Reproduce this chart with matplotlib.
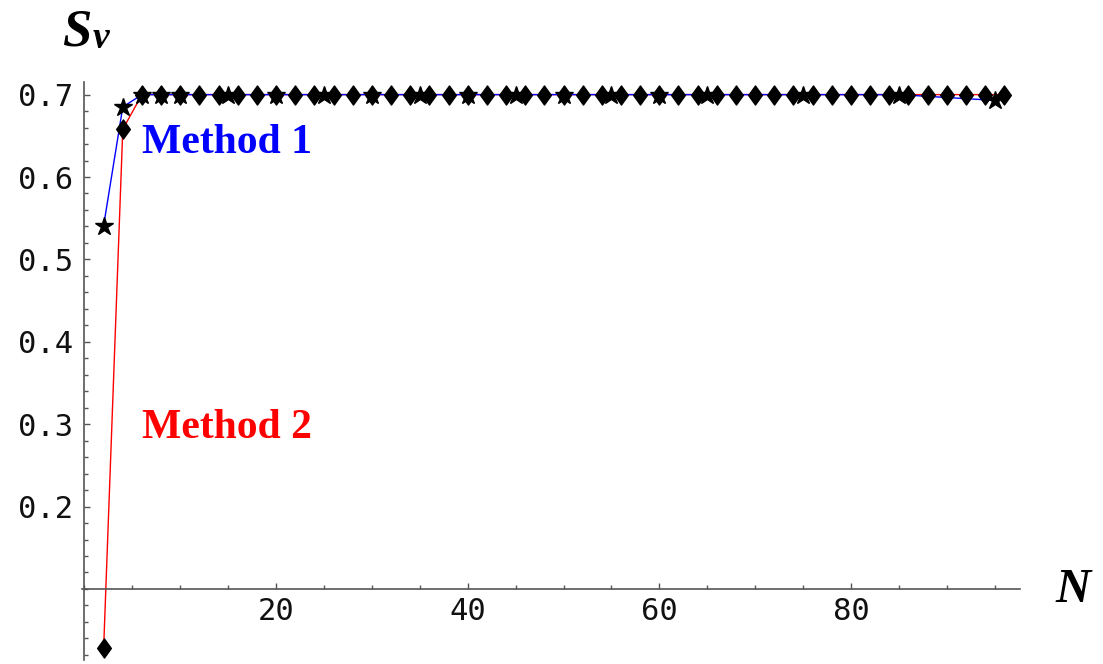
import numpy as np
import matplotlib; matplotlib.use('Agg')
import matplotlib.pyplot as plt
from matplotlib.path import Path
from matplotlib.ticker import FixedLocator, MultipleLocator

# Method 1 (stars, blue line)
n1 = [2, 4, 6, 8, 10, 15, 20, 25, 30, 35, 40, 45, 50, 55, 60, 65, 75, 85, 95]
s1 = [0.541, 0.685, 0.700, 0.700, 0.700, 0.700, 0.700, 0.700, 0.700, 0.700,
      0.700, 0.700, 0.700, 0.700, 0.700, 0.700, 0.700, 0.700, 0.693]
# Method 2 (diamonds, red line)
n2 = [2, 4, 6, 8, 10, 12, 14, 16, 18, 20, 22, 24, 26, 28, 30, 32, 34, 36, 38, 40,
      42, 44, 46, 48, 50, 52, 54, 56, 58, 60, 62, 64, 66, 68, 70, 72, 74, 76, 78, 80,
      82, 84, 86, 88, 90, 92, 94, 96]
s2 = [0.028, 0.658] + [0.700] * 46

yticks = [0.2, 0.3, 0.4, 0.5, 0.6, 0.7]
xticks = [20, 40, 60, 80]

W, H = 1103, 664
fig = plt.figure(figsize=(W/100, H/100), dpi=100, facecolor='white')
# axes box in pixels: left 81.6, right 1020.5, top 82, bottom 660
ax = fig.add_axes([81.6/W, 4/H, (1020.5-81.6)/W, (660-82)/H])
ax.set_xlim(-0.3, 97.7)
ax.set_ylim(0.0138, 0.7153)

diamond = Path([(0, 1), (0.72, 0), (0, -1), (-0.72, 0), (0, 1)],
               [Path.MOVETO, Path.LINETO, Path.LINETO, Path.LINETO, Path.CLOSEPOLY])

ax.plot(n2, s2, color='red', lw=1.0, zorder=2)
ax.plot(n1, s1, color='blue', lw=1.0, zorder=3)
ax.plot(n2, s2, ls='none', marker=diamond, ms=13.7, color='black', zorder=4)
ax.plot(n1, s1, ls='none', marker='*', ms=13.5, color='black', zorder=5)

for s in ['top', 'right']:
    ax.spines[s].set_visible(False)
ax.spines['left'].set_position(('data', 0))
ax.spines['bottom'].set_position(('data', 0.1))
for s in ['left', 'bottom']:
    ax.spines[s].set_color('#555555'); ax.spines[s].set_linewidth(1.2)

ax.xaxis.set_major_locator(FixedLocator(xticks))
ax.xaxis.set_minor_locator(MultipleLocator(5))
ax.yaxis.set_major_locator(FixedLocator(yticks))
ax.yaxis.set_minor_locator(MultipleLocator(0.02))
ax.set_xticklabels([str(v) for v in xticks])
ax.set_yticklabels([f'{v:.1f}' for v in yticks])
ax.tick_params(which='both', direction='in', color='#555555', width=1.0)
ax.tick_params(which='major', length=4.5)
ax.tick_params(which='minor', length=3)
ax.tick_params(axis='x', pad=6)
ax.tick_params(axis='y', pad=8)
for lab in ax.get_xticklabels() + ax.get_yticklabels():
    lab.set_fontfamily('DejaVu Sans Mono'); lab.set_fontsize(22)
    lab.set_color('#111111')

ax.text(6.0, 0.629, 'Method 1', color='blue', family='Liberation Serif',
        weight='bold', fontsize=30, va='baseline', ha='left')
ax.text(6.0, 0.283, 'Method 2', color='red', family='Liberation Serif',
        weight='bold', fontsize=30, va='baseline', ha='left')

fig.text(62/W, 1-45/H, 'S', family='Liberation Serif', style='italic',
         weight='bold', fontsize=38, va='baseline', ha='left')
fig.text(93/W, 1-48/H, 'v', family='Liberation Serif', style='italic',
         weight='bold', fontsize=27, va='baseline', ha='left')
fig.text(1055/W, 1-602/H, 'N', family='Liberation Serif', style='italic',
         weight='bold', fontsize=35, va='baseline', ha='left')

plt.savefig('out.png', dpi=100, facecolor='white')
